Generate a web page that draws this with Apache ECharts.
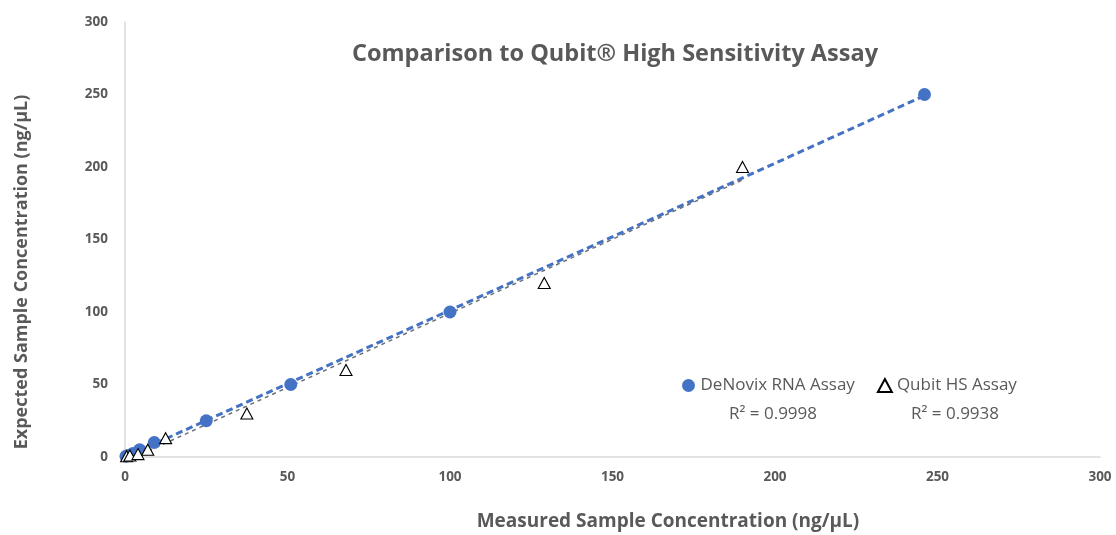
<!DOCTYPE html>
<html><head><meta charset="utf-8">
<script src="https://cdn.jsdelivr.net/npm/echarts@6/dist/echarts.min.js"></script>
<style>html,body{margin:0;padding:0;background:#fff}#c{width:1116px;height:535px}</style>
</head><body><div id="c"></div>
<script>
const titleText = "Comparison to Qubit® High Sensitivity Assay";
const xAxisTitle = "Measured Sample Concentration (ng/µL)";
const yAxisTitle = "Expected Sample Concentration (ng/µL)";
const denovixName = "DeNovix RNA Assay";
const qubitName = "Qubit HS Assay";
const denovixMeasured = [0.3, 1, 2.5, 4.5, 9, 25, 51, 100, 246];
const denovixExpected = [0.5, 1, 2.5, 5, 10, 25, 50, 100, 250];
const qubitMeasured = [0.5, 1.5, 4, 7, 12.5, 37.5, 68, 129, 190];
const qubitExpected = [0.5, 1, 2, 5, 13, 30, 60, 120, 200];
const r2Labels = ["R² = 0.9998", "R² = 0.9938"];

function fit(xs, ys) {
  const n = xs.length;
  let sx=0, sy=0, sxx=0, sxy=0;
  for (let i=0;i<n;i++){sx+=xs[i];sy+=ys[i];sxx+=xs[i]*xs[i];sxy+=xs[i]*ys[i];}
  const a=(n*sxy-sx*sy)/(n*sxx-sx*sx), b=(sy-a*sx)/n;
  const x0=Math.min(...xs), x1=Math.max(...xs);
  return [[x0,a*x0+b],[x1,a*x1+b]];
}
const pairs = (xs, ys) => xs.map((x,i)=>[x, ys[i]]);

const gray = '#595959';
const font = '"Open Sans", "Noto Sans", sans-serif';
const chart = echarts.init(document.getElementById('c'));
chart.setOption({
  animation:false,
  title:{text:titleText,left:610,top:37,textAlign:'center',textStyle:{fontFamily:font,fontWeight:'bold',fontSize:23.5,color:gray}},
  grid:{left:125,right:16,top:22,bottom:78,outerBoundsMode:'none',containLabel:false},
  legend:{data:[denovixName,qubitName],left:677,top:372,itemGap:22,itemWidth:14,itemHeight:13,
    textStyle:{fontFamily:font,fontSize:17,color:gray}},
  xAxis:{type:'value',min:0,max:300,interval:50,
    axisLine:{show:true,lineStyle:{color:'#d9d9d9',width:1.5}},axisTick:{show:false},splitLine:{show:false},
    axisLabel:{fontFamily:font,fontWeight:'bold',fontSize:13.5,color:gray,margin:13}},
  yAxis:{type:'value',min:0,max:300,interval:50,
    axisLine:{show:true,lineStyle:{color:'#d9d9d9',width:1.5}},axisTick:{show:false},splitLine:{show:false},
    axisLabel:{fontFamily:font,fontWeight:'bold',fontSize:13.5,color:gray,margin:17}},
  graphic:[
    {type:'text',x:773,y:414,style:{text:r2Labels[0],fontFamily:font,fontSize:17,fill:gray,align:'center',verticalAlign:'middle'}},
    {type:'text',x:955,y:414,style:{text:r2Labels[1],fontFamily:font,fontSize:17,fill:gray,align:'center',verticalAlign:'middle'}},
    {type:'text',x:668,y:522,style:{text:xAxisTitle,fontFamily:font,fontWeight:'bold',fontSize:19,fill:gray,align:'center',verticalAlign:'middle'}},
    {type:'text',x:22,y:272,rotation:Math.PI/2,style:{text:yAxisTitle,fontFamily:font,fontWeight:'bold',fontSize:18,fill:gray,align:'center',verticalAlign:'middle'}}
  ],
  series:[
    {name:denovixName+' trend',type:'line',data:fit(denovixMeasured,denovixExpected),symbol:'none',z:3,
      lineStyle:{color:'#4472C4',width:3,type:[7,4]}},
    {name:qubitName+' trend',type:'line',data:fit(qubitMeasured,qubitExpected),symbol:'none',z:4,
      lineStyle:{color:'#6b6f7a',width:1.5,type:[4,4]}},
    {name:denovixName,type:'scatter',data:pairs(denovixMeasured,denovixExpected),symbol:'circle',symbolSize:13,z:5,
      itemStyle:{color:'#4472C4',opacity:1}},
    {name:qubitName,type:'scatter',data:pairs(qubitMeasured,qubitExpected),symbol:'triangle',symbolSize:[12,11],z:6,
      itemStyle:{color:'#ffffff',borderColor:'#000000',borderWidth:1.1,opacity:1}}
  ]
});
</script></body></html>
